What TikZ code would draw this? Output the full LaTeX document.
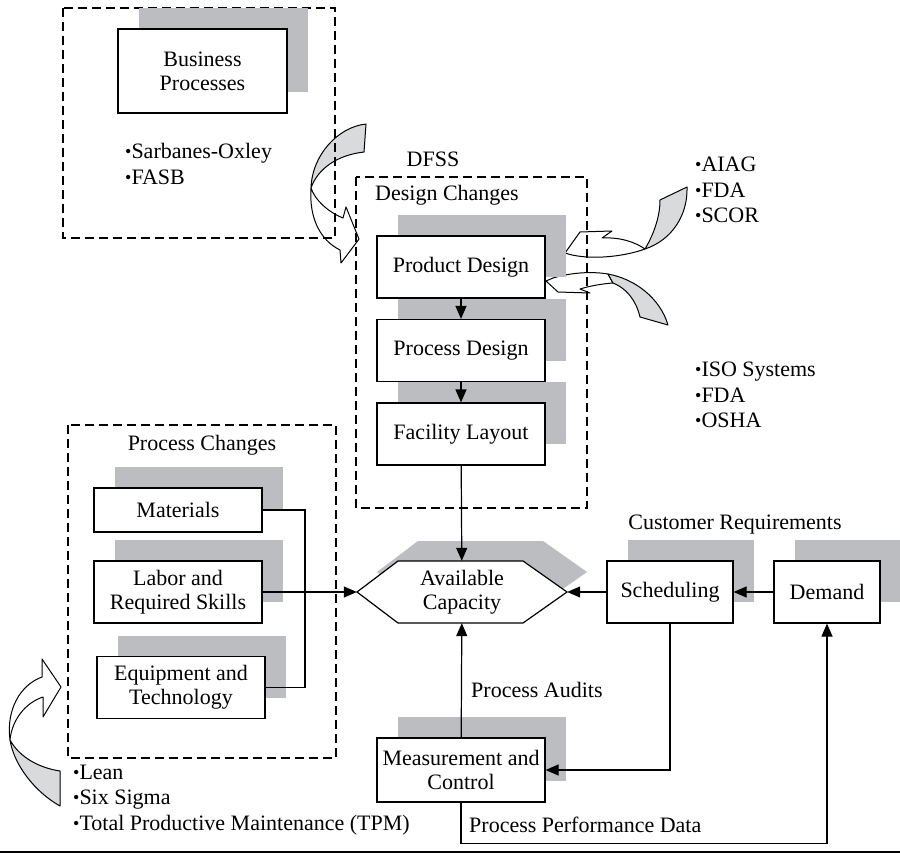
\documentclass[tikz,border=0pt]{standalone}
\usepackage{fontspec}
\setmainfont{Liberation Serif}
\usetikzlibrary{arrows.meta,shadows}
\definecolor{shadegray}{RGB}{187,189,192}
\definecolor{ribbongray}{RGB}{216,218,220}
\newcommand{\blt}{\raisebox{1pt}{\fontsize{18}{18}\selectfont\textbullet}}

\begin{document}
\begin{tikzpicture}[x=1pt,y=-1pt,every node/.style={font=\fontsize{22}{24}\selectfont}]
	\tikzset{
	  BoxStyle/.style = { draw, fill=white, line width=1.2pt, align=center,
	                      minimum width=168pt, minimum height=62pt, inner sep=2pt,
	                      general shadow={fill=shadegray, shadow xshift=21pt, shadow yshift=21pt} },
	  GroupStyle/.style = { line width=1.1pt, dash pattern=on 9pt off 5pt },
	  LabelStyle/.style = { inner sep=0pt },
	  ListStyle/.style = { inner sep=0pt, anchor=west, align=left,
	                       font=\fontsize{22}{25.5}\selectfont },
	  LineStyle/.style = { line width=1.2pt },
	  EdgeStyle/.style = { line width=1.2pt, -{Triangle[length=13pt,width=11pt]} },
	  RibbonStyle/.style = { line width=1pt, line join=round } }
	\useasboundingbox (0,0) rectangle (900,853);
	% twisted ribbon arrows
	\filldraw[RibbonStyle, fill=ribbongray] (366,124) .. controls (338,127) and (312,155) .. (311,188)
	  .. controls (318,168) and (338,155) .. (364,152) -- cycle;
	\filldraw[RibbonStyle, fill=white] (311,188) .. controls (309,218) and (320,240) .. (340,250)
	  -- (341,263) -- (359,239) -- (346,207) -- (343,218) .. controls (328,212) and (315,200) .. (311,188) -- cycle;
	\filldraw[RibbonStyle, fill=ribbongray] (687,187) .. controls (688,215) and (672,240) .. (645,249)
	  .. controls (655,232) and (660,215) .. (660,200) -- cycle;
	\filldraw[RibbonStyle, fill=white] (645,249) .. controls (620,258) and (585,260) .. (565,253)
	  -- (580,232) -- (612,231) -- (602,238) .. controls (620,237) and (635,242) .. (645,249) -- cycle;
	\filldraw[RibbonStyle, fill=white] (546,281) -- (553,278) .. controls (570,273) and (590,271) .. (608,274)
	  -- (613,283) .. controls (600,284) and (590,286) .. (580,289) -- (590,293) -- (558,292) -- cycle;
	\filldraw[RibbonStyle, fill=ribbongray] (608,274) .. controls (635,279) and (660,298) .. (668,325)
	  -- (640,317) .. controls (636,300) and (626,288) .. (613,283) -- cycle;
	\filldraw[RibbonStyle, fill=white] (42,677) -- (42,659) -- (61,687) -- (43,717) -- (43,697)
	  .. controls (25,703) and (12,720) .. (10,740) .. controls (6,710) and (20,685) .. (42,677) -- cycle;
	\filldraw[RibbonStyle, fill=ribbongray] (10,740) .. controls (14,765) and (35,792) .. (60,806)
	  -- (60,771) .. controls (40,768) and (20,758) .. (10,740) -- cycle;
	% dashed groups
	\draw[GroupStyle] (63,8) rectangle (335,238);
	\draw[GroupStyle] (356,177) rectangle (587,508);
	\draw[GroupStyle] (68,425) rectangle (336,758);
	\node[LabelStyle] (dfss) at (433,159) {DFSS};
	\node[LabelStyle] (dc) at (447,195) {Design Changes};
	\node[LabelStyle] (pc) at (202,445) {Process Changes};
	\node[LabelStyle] (cr) at (735,525) {Customer Requirements};
	% boxes
	\node[BoxStyle, minimum width=169pt, minimum height=84pt] (bp) at (202.5,71) {Business\\Processes};
	\node[BoxStyle] (pd) at (461,267) {Product Design};
	\node[BoxStyle] (prd) at (461,350.5) {Process Design};
	\node[BoxStyle] (fac) at (461,434) {Facility Layout};
	\node[BoxStyle, minimum height=44pt] (mat) at (178,510) {Materials};
	\node[BoxStyle] (lab) at (178,592) {Labor and\\Required Skills};
	\node[BoxStyle] (equ) at (181,687.5) {Equipment and\\Technology};
	\node[BoxStyle, minimum width=126pt] (sch) at (670,592) {Scheduling};
	\node[BoxStyle, minimum width=106pt] (dem) at (827,592) {Demand};
	\node[BoxStyle, minimum height=64pt] (mc) at (461,770) {Measurement and\\Control};
	% available capacity
	\fill[shadegray] (377,572) -- (418,541) -- (543,541) -- (587,572) -- (543,603) -- (418,603) -- cycle;
	\filldraw[LineStyle, fill=white] (357,592) -- (398,561) -- (523,561) -- (567,592) -- (523,623) -- (398,623) -- cycle;
	\node[align=center, inner sep=0pt, minimum width=210pt, minimum height=62pt] (cap) at (462,592) {Available\\Capacity};
	% bullet lists
	\node[ListStyle] (sox) at (125,164) {\blt Sarbanes-Oxley\\\blt FASB};
	\node[ListStyle] (aiag) at (695,190) {\blt AIAG\\\blt FDA\\\blt SCOR};
	\node[ListStyle] (iso) at (695,395) {\blt ISO Systems\\\blt FDA\\\blt OSHA};
	\node[ListStyle] (lean) at (73,800) {\blt Lean\\\blt Six Sigma\\\blt Total Productive Maintenance (TPM)};
	% connectors
	\coordinate (merge) at (305,592);
	\draw[EdgeStyle] (pd) -- (prd);
	\draw[EdgeStyle] (prd) -- (fac);
	\draw[EdgeStyle] (fac) -- (cap);
	\draw[LineStyle] (mat.east) -| (merge);
	\draw[LineStyle] (equ.east) -| (merge);
	\draw[EdgeStyle] (lab.east) -- (cap.west);
	\draw[EdgeStyle] (dem) -- (sch);
	\draw[EdgeStyle] (sch) -- (cap);
	\draw[EdgeStyle] (sch.south) |- (mc.east);
	\draw[EdgeStyle] (mc) -- (cap);
	\draw[EdgeStyle] (mc.south) -- ++(0,41) -| (dem.south);
	\node[LabelStyle, anchor=west] (pa) at (471,690) {Process Audits};
	\node[LabelStyle, anchor=west] (ppd) at (469,825) {Process Performance Data};
	\draw[line width=2pt] (0,852) -- (900,852);
\end{tikzpicture}
\end{document}
